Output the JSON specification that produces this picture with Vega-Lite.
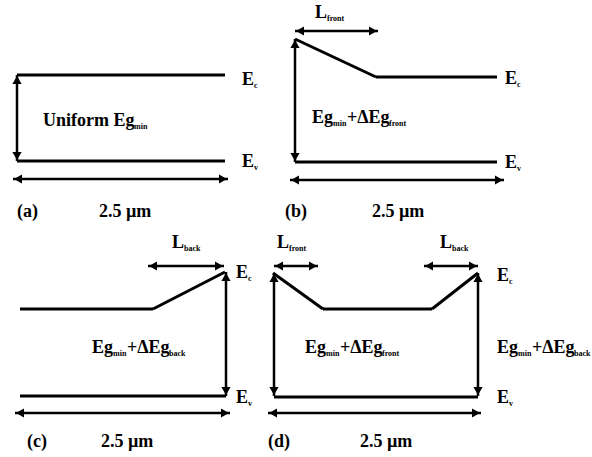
{
  "$schema": "https://vega.github.io/schema/vega-lite/v6.json",
  "width": 592,
  "height": 457,
  "padding": 0,
  "autosize": {"type": "fit", "contains": "padding"},
  "background": "white",
  "config": {"view": {"stroke": null}},
  "datasets": {
    "bands": [
      {"x": 17, "y": 75, "x2": 225, "y2": 75},
      {"x": 17, "y": 161, "x2": 225, "y2": 161},
      {"x": 295, "y": 39, "x2": 376, "y2": 77},
      {"x": 376, "y": 77, "x2": 497, "y2": 77},
      {"x": 295, "y": 162, "x2": 497, "y2": 162},
      {"x": 20, "y": 309, "x2": 153, "y2": 309},
      {"x": 153, "y": 309, "x2": 225, "y2": 272},
      {"x": 20, "y": 396, "x2": 226, "y2": 396},
      {"x": 273, "y": 273, "x2": 323, "y2": 309},
      {"x": 323, "y": 309, "x2": 432, "y2": 309},
      {"x": 432, "y": 309, "x2": 478, "y2": 273},
      {"x": 274, "y": 397, "x2": 478, "y2": 397}
    ],
    "shafts": [
      {"x": 17, "y": 75, "x2": 17, "y2": 161},
      {"x": 13, "y": 179, "x2": 228, "y2": 179},
      {"x": 295, "y": 39, "x2": 295, "y2": 162},
      {"x": 295, "y": 31, "x2": 378, "y2": 31},
      {"x": 290, "y": 180, "x2": 504, "y2": 180},
      {"x": 226, "y": 272, "x2": 226, "y2": 396},
      {"x": 148, "y": 266, "x2": 224, "y2": 266},
      {"x": 15, "y": 413, "x2": 230, "y2": 413},
      {"x": 274, "y": 273, "x2": 274, "y2": 396},
      {"x": 478, "y": 273, "x2": 478, "y2": 396},
      {"x": 274, "y": 266, "x2": 318, "y2": 266},
      {"x": 424, "y": 266, "x2": 478, "y2": 266},
      {"x": 268, "y": 413, "x2": 481, "y2": 413}
    ],
    "heads": [
      {"x": 17, "y": 80, "dir": "up"},
      {"x": 17, "y": 156, "dir": "down"},
      {"x": 18, "y": 179, "dir": "left"},
      {"x": 223, "y": 179, "dir": "right"},
      {"x": 295, "y": 44, "dir": "up"},
      {"x": 295, "y": 157, "dir": "down"},
      {"x": 300, "y": 31, "dir": "left"},
      {"x": 373, "y": 31, "dir": "right"},
      {"x": 295, "y": 180, "dir": "left"},
      {"x": 499, "y": 180, "dir": "right"},
      {"x": 226, "y": 277, "dir": "up"},
      {"x": 226, "y": 391, "dir": "down"},
      {"x": 153, "y": 266, "dir": "left"},
      {"x": 219, "y": 266, "dir": "right"},
      {"x": 20, "y": 413, "dir": "left"},
      {"x": 225, "y": 413, "dir": "right"},
      {"x": 274, "y": 278, "dir": "up"},
      {"x": 274, "y": 391, "dir": "down"},
      {"x": 478, "y": 278, "dir": "up"},
      {"x": 478, "y": 391, "dir": "down"},
      {"x": 279, "y": 266, "dir": "left"},
      {"x": 313, "y": 266, "dir": "right"},
      {"x": 429, "y": 266, "dir": "left"},
      {"x": 473, "y": 266, "dir": "right"},
      {"x": 273, "y": 413, "dir": "left"},
      {"x": 476, "y": 413, "dir": "right"}
    ],
    "labels": [
      {"x": 242, "y": 85, "t": "E"},
      {"x": 242, "y": 167, "t": "E"},
      {"x": 43, "y": 126, "t": "Uniform Eg"},
      {"x": 17, "y": 217, "t": "(a)"},
      {"x": 99, "y": 217, "t": "2.5 µm"},
      {"x": 315, "y": 18, "t": "L"},
      {"x": 505, "y": 84, "t": "E"},
      {"x": 505, "y": 168, "t": "E"},
      {"x": 312, "y": 123, "t": "Eg"},
      {"x": 347, "y": 123, "t": "+ΔEg"},
      {"x": 285, "y": 217, "t": "(b)"},
      {"x": 372, "y": 217, "t": "2.5 µm"},
      {"x": 172, "y": 248, "t": "L"},
      {"x": 236, "y": 278, "t": "E"},
      {"x": 236, "y": 403, "t": "E"},
      {"x": 92, "y": 353, "t": "Eg"},
      {"x": 127, "y": 353, "t": "+ΔEg"},
      {"x": 27, "y": 447, "t": "(c)"},
      {"x": 101, "y": 447, "t": "2.5 µm"},
      {"x": 277, "y": 248, "t": "L"},
      {"x": 440, "y": 248, "t": "L"},
      {"x": 497, "y": 281, "t": "E"},
      {"x": 497, "y": 403, "t": "E"},
      {"x": 305, "y": 353, "t": "Eg"},
      {"x": 340, "y": 353, "t": "+ΔEg"},
      {"x": 497, "y": 353, "t": "Eg"},
      {"x": 532, "y": 353, "t": "+ΔEg"},
      {"x": 268, "y": 447, "t": "(d)"},
      {"x": 360, "y": 447, "t": "2.5 µm"}
    ],
    "subs": [
      {"x": 254, "y": 88, "t": "c"},
      {"x": 254, "y": 170, "t": "v"},
      {"x": 134, "y": 129, "t": "min"},
      {"x": 327, "y": 21, "t": "front"},
      {"x": 517, "y": 87, "t": "c"},
      {"x": 517, "y": 171, "t": "v"},
      {"x": 333, "y": 126, "t": "min"},
      {"x": 389, "y": 126, "t": "front"},
      {"x": 184, "y": 251, "t": "back"},
      {"x": 248, "y": 281, "t": "c"},
      {"x": 248, "y": 406, "t": "v"},
      {"x": 113, "y": 356, "t": "min"},
      {"x": 169, "y": 356, "t": "back"},
      {"x": 289, "y": 251, "t": "front"},
      {"x": 452, "y": 251, "t": "back"},
      {"x": 509, "y": 284, "t": "c"},
      {"x": 509, "y": 406, "t": "v"},
      {"x": 326, "y": 356, "t": "min"},
      {"x": 382, "y": 356, "t": "front"},
      {"x": 518, "y": 356, "t": "min"},
      {"x": 574, "y": 356, "t": "back"}
    ]
  },
  "layer": [
    {
      "data": {"name": "bands"},
      "mark": {"type": "rule", "color": "black", "strokeWidth": 3},
      "encoding": {
        "x": {"field": "x", "type": "quantitative", "scale": {"domain": [0, 592], "nice": false, "zero": false}, "axis": null},
        "y": {"field": "y", "type": "quantitative", "scale": {"domain": [0, 457], "reverse": true, "nice": false, "zero": false}, "axis": null},
        "x2": {"field": "x2"},
        "y2": {"field": "y2"}
      }
    },
    {
      "data": {"name": "shafts"},
      "mark": {"type": "rule", "color": "black", "strokeWidth": 2.5},
      "encoding": {
        "x": {"field": "x", "type": "quantitative"},
        "y": {"field": "y", "type": "quantitative"},
        "x2": {"field": "x2"},
        "y2": {"field": "y2"}
      }
    },
    {
      "data": {"name": "heads"},
      "mark": {"type": "point", "filled": true, "color": "black", "opacity": 1, "size": 85},
      "encoding": {
        "x": {"field": "x", "type": "quantitative"},
        "y": {"field": "y", "type": "quantitative"},
        "shape": {"field": "dir", "type": "nominal", "legend": null,
          "scale": {"domain": ["up", "down", "left", "right"], "range": ["triangle-up", "triangle-down", "triangle-left", "triangle-right"]}}
      }
    },
    {
      "data": {"name": "labels"},
      "mark": {"type": "text", "align": "left", "baseline": "alphabetic", "font": "Liberation Serif", "fontSize": 18, "fontWeight": "bold", "color": "black"},
      "encoding": {
        "x": {"field": "x", "type": "quantitative"},
        "y": {"field": "y", "type": "quantitative"},
        "text": {"field": "t"}
      }
    },
    {
      "data": {"name": "subs"},
      "mark": {"type": "text", "align": "left", "baseline": "alphabetic", "font": "Liberation Serif", "fontSize": 8, "fontWeight": "bold", "color": "black"},
      "encoding": {
        "x": {"field": "x", "type": "quantitative"},
        "y": {"field": "y", "type": "quantitative"},
        "text": {"field": "t"}
      }
    }
  ]
}
